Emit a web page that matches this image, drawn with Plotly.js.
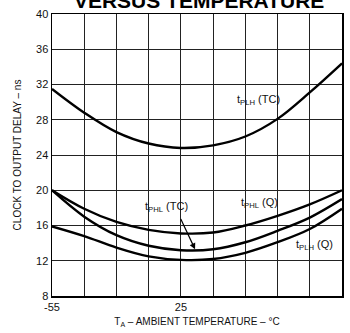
<!DOCTYPE html>
<html>
<head>
<meta charset="utf-8">
<script src="https://cdn.plot.ly/plotly-3.0.1.min.js"></script>
<style>html,body{margin:0;padding:0;background:#fff}#chart{width:350px;height:333px}</style>
</head>
<body>
<div id="chart"></div>
<script>
// Ambient temperature (°C)
var temperature = [-55, -35, -15, 5, 25, 45, 65, 85, 105, 125];
// Clock to output delay (ns)
var tPLH_TC = [31.5, 28.8, 26.6, 25.3, 24.8, 25.1, 26.1, 28.1, 31.1, 34.4];
var tPHL_Q  = [20.0, 17.9, 16.4, 15.5, 15.1, 15.2, 16.0, 17.1, 18.4, 20.0];
var tPHL_TC = [20.0, 17.0, 14.9, 13.7, 13.2, 13.3, 14.1, 15.4, 16.9, 19.0];
var tPLH_Q  = [15.9, 14.8, 13.5, 12.5, 12.1, 12.2, 12.9, 14.1, 15.6, 17.9];
var seriesNames = ['t<sub>PLH</sub> (TC)', 't<sub>PHL</sub> (Q)', 't<sub>PHL</sub> (TC)', 't<sub>PLH</sub> (Q)'];
// Tick labels
var xTickVals = [-55, -35, -15, 5, 25, 45, 65, 85, 105, 125];
var xTickText = ['-55', '', '', '', '25', '', '', '', '', '125'];
var yTickVals = [8, 12, 16, 20, 24, 28, 32, 36, 40];

var font = '"Liberation Sans", Arial, Helvetica, sans-serif';
var seriesData = [tPLH_TC, tPHL_Q, tPHL_TC, tPLH_Q];
var traces = seriesData.map(function (ys, i) {
  return {
    x: temperature, y: ys, type: 'scatter', mode: 'lines', name: seriesNames[i],
    line: {color: '#000', width: 2.4, shape: 'spline', smoothing: 1}
  };
});

var labelPos = [[73, 30.2], [74, 18.5], [16, 18.1], [108, 13.8]];
var annotations = labelPos.map(function (p, i) {
  return {x: p[0], y: p[1], xref: 'x', yref: 'y', text: seriesNames[i], showarrow: false,
          font: {family: font, size: 11, color: '#111'}};
});
annotations.push({x: 33.8, y: 13.3, ax: 24.5, ay: 16.9, xref: 'x', yref: 'y', axref: 'x', ayref: 'y',
  text: '', showarrow: true, arrowhead: 2, arrowsize: 1, arrowwidth: 1.2, arrowcolor: '#000'});

var layout = {
  width: 350, height: 333,
  margin: {l: 52, r: 8, t: 14, b: 37},
  paper_bgcolor: '#fff', plot_bgcolor: '#fff',
  showlegend: false,
  font: {family: font, color: '#111'},
  title: {text: '<b>VERSUS TEMPERATURE</b>', font: {family: font, size: 21, color: '#000'},
          x: 0.569, xanchor: 'center', y: 0.976, yref: 'container', yanchor: 'bottom'},
  xaxis: {range: [-55, 125], tickmode: 'array', tickvals: xTickVals, ticktext: xTickText,
          showgrid: true, gridcolor: '#222', gridwidth: 1, zeroline: false,
          showline: true, mirror: true, linecolor: '#000', linewidth: 1.5, ticks: '',
          tickfont: {size: 11, color: '#111'},
          title: {text: 'T<sub>A</sub> – AMBIENT TEMPERATURE – °C', font: {size: 10, color: '#111'}, standoff: 6}},
  yaxis: {range: [8, 40], tickmode: 'array', tickvals: yTickVals,
          showgrid: true, gridcolor: '#222', gridwidth: 1, zeroline: false,
          showline: true, mirror: true, linecolor: '#000', linewidth: 1.5, ticks: '',
          tickfont: {size: 11, color: '#111'},
          title: {text: 'CLOCK TO OUTPUT DELAY – ns', font: {size: 10, color: '#111'}, standoff: 12}},
  annotations: annotations
};
Plotly.newPlot('chart', traces, layout, {displayModeBar: false, staticPlot: true});
</script>
</body>
</html>
